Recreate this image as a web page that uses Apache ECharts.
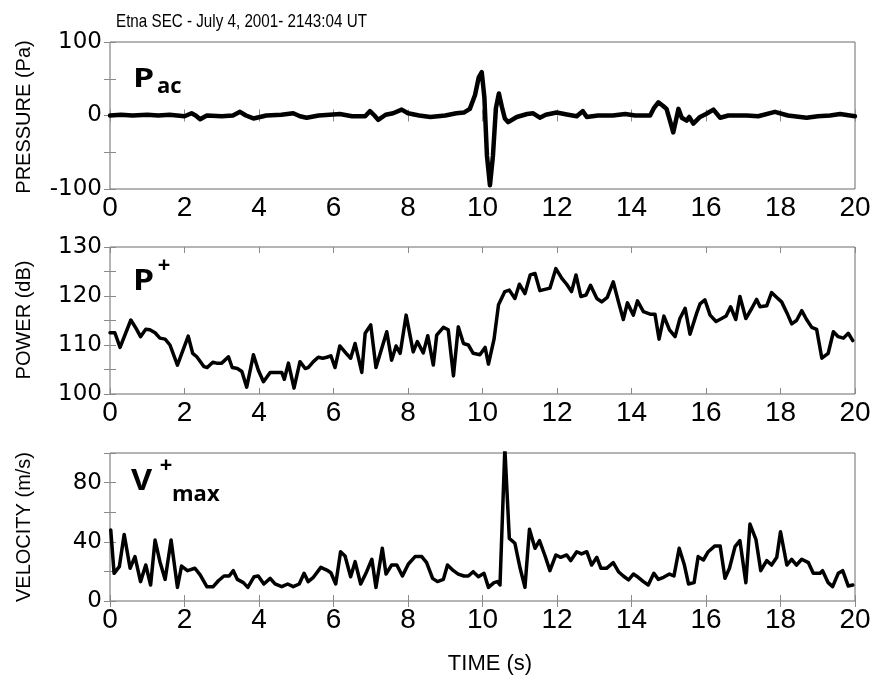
<!DOCTYPE html>
<html>
<head>
<meta charset="utf-8">
<script src="https://cdn.jsdelivr.net/npm/echarts@6/dist/echarts.min.js"></script>
<style>
html,body{margin:0;padding:0;background:#fff;}
#chart{width:876px;height:680px;}
</style>
</head>
<body>
<div id="chart"></div>
<script>
// ---- Data ----
const titleText = 'Etna SEC - July 4, 2001- 2143:04 UT';
const xTicks = [0, 2, 4, 6, 8, 10, 12, 14, 16, 18, 20];

const pressureTime = [0,0.3,0.6,1.0,1.3,1.6,2.0,2.19,2.3,2.42,2.6,3.0,3.3,3.49,3.65,3.85,4.2,4.6,4.92,5.1,5.28,5.6,5.9,6.17,6.5,6.85,6.98,7.1,7.2,7.4,7.6,7.83,8.0,8.3,8.6,9.0,9.3,9.5,9.66,9.8,9.9,9.98,10.05,10.12,10.2,10.28,10.36,10.44,10.52,10.6,10.69,10.92,11.2,11.36,11.54,11.7,11.99,12.3,12.53,12.69,12.8,13.1,13.5,13.83,14.1,14.5,14.6,14.72,14.85,14.94,15.05,15.12,15.2,15.26,15.35,15.48,15.55,15.66,15.84,16.0,16.2,16.38,16.6,17.09,17.4,17.85,18.2,18.7,19.0,19.33,19.6,20];
const pressureValues = [0,1,0,1,0,1,-1,3,0,-5,0,-1,0,5,0,-4,0,1,3,-1,-3,0,1,2,-1,-1,6,0,-6,1,3,8,3,0,-2,0,3,4,9,28,52,59,25,-55,-95,-55,10,30,12,-4,-9,-2,2,3,-3,1,4,1,-1,6,-2,0,0,2,0,0,10,18,13,9,-10,-23,-5,9,-3,-7,-2,-11,-2,2,8,-3,0,0,-1,5,0,-3,-1,0,2,-1];

const powerTime = [0.0,0.13,0.27,0.56,0.70,0.82,0.96,1.07,1.21,1.34,1.48,1.61,1.81,2.10,2.22,2.33,2.52,2.61,2.76,2.86,3.00,3.18,3.28,3.42,3.54,3.67,3.85,3.98,4.12,4.30,4.47,4.61,4.68,4.79,4.94,5.10,5.24,5.32,5.46,5.59,5.71,5.82,5.93,6.04,6.17,6.34,6.46,6.58,6.76,6.85,7.00,7.14,7.43,7.56,7.68,7.79,7.95,8.14,8.25,8.41,8.53,8.68,8.77,8.95,9.08,9.22,9.35,9.49,9.62,9.75,9.93,10.07,10.16,10.31,10.43,10.60,10.72,10.87,10.99,11.14,11.28,11.41,11.54,11.81,11.97,12.13,12.26,12.39,12.51,12.64,12.78,12.90,13.07,13.20,13.35,13.51,13.65,13.78,13.89,14.05,14.16,14.32,14.50,14.63,14.74,14.87,15.02,15.17,15.30,15.44,15.57,15.75,15.84,15.97,16.11,16.27,16.42,16.54,16.66,16.80,16.91,17.07,17.23,17.36,17.45,17.63,17.76,17.90,18.03,18.17,18.30,18.43,18.57,18.70,18.84,18.97,19.11,19.28,19.42,19.55,19.69,19.82,19.94];
const powerValues = [112.5,112.5,109.5,115.1,113.4,111.7,113.2,113.1,112.5,111.4,111.2,110.0,105.9,111.8,108.3,107.6,105.6,105.4,106.5,106.3,106.3,107.6,105.4,105.2,104.6,101.4,108.0,104.9,102.5,104.4,104.4,104.4,103.0,106.3,101.2,106.6,105.2,105.4,106.6,107.5,107.3,107.5,107.8,105.4,109.8,108.3,107.3,110.3,104.4,112.4,114.1,105.4,112.7,106.9,109.8,108.3,116.1,108.6,110.7,108.4,111.9,105.9,112.0,113.6,113.1,103.7,113.7,110.3,110.0,108.3,108.0,109.5,106.1,111.2,118.2,120.9,121.2,119.5,122.4,120.5,124.3,124.6,121.1,121.6,125.6,123.6,122.4,120.9,124.3,119.9,120.2,122.2,119.5,118.8,119.7,122.9,118.8,115.2,118.6,116.1,119.0,116.8,116.3,116.3,111.2,115.9,113.1,111.7,115.4,117.5,112.2,116.5,118.4,119.2,116.1,114.8,115.4,115.9,117.8,115.2,119.9,115.4,117.5,119.3,117.8,118.0,120.7,119.7,118.8,116.6,114.3,115.0,117.0,115.2,113.6,113.2,107.3,108.3,112.7,111.7,111.4,112.4,110.9];

const velocityTime = [0.02,0.11,0.25,0.38,0.54,0.67,0.82,0.96,1.09,1.21,1.34,1.48,1.64,1.81,1.92,2.08,2.28,2.42,2.60,2.77,2.91,3.06,3.20,3.31,3.42,3.58,3.70,3.87,3.98,4.13,4.30,4.43,4.61,4.77,4.92,5.08,5.21,5.32,5.46,5.66,5.82,5.93,6.06,6.19,6.31,6.46,6.58,6.73,6.89,7.03,7.14,7.31,7.41,7.56,7.70,7.85,8.01,8.19,8.37,8.50,8.66,8.79,8.95,9.06,9.22,9.35,9.50,9.62,9.75,9.89,10.04,10.16,10.31,10.40,10.47,10.60,10.72,10.87,11.01,11.14,11.26,11.41,11.53,11.68,11.81,11.97,12.10,12.26,12.37,12.53,12.66,12.80,12.93,13.07,13.18,13.33,13.51,13.65,13.78,13.92,14.05,14.18,14.32,14.45,14.60,14.72,14.86,15.02,15.14,15.28,15.42,15.53,15.68,15.79,15.93,16.06,16.24,16.38,16.51,16.63,16.78,16.91,17.07,17.18,17.34,17.47,17.63,17.76,17.90,18.00,18.17,18.30,18.43,18.57,18.75,18.88,19.06,19.13,19.28,19.40,19.55,19.67,19.82,19.94];
const velocityValues = [48.0,18.7,23.2,45.0,22.1,30.0,13.1,24.3,10.8,41.2,26.6,14.6,41.2,9.2,23.6,20.5,22.1,17.6,9.7,9.7,13.7,16.9,16.9,20.5,14.6,12.4,9.2,16.4,16.9,11.5,15.3,11.5,9.7,11.5,9.7,11.5,18.7,13.1,16.0,22.7,20.9,19.1,11.5,33.3,30.4,16.4,26.6,11.5,19.8,28.2,9.2,35.6,18.2,24.3,24.3,16.9,25.0,30.0,30.0,25.9,15.3,13.1,14.6,24.3,20.5,18.2,16.9,16.9,19.8,16.4,18.7,9.2,12.4,13.1,10.8,103,42.3,39.0,22.1,9.2,48.4,35.6,40.8,30.4,20.5,31.1,29.5,31.1,27.3,33.3,31.8,33.3,24.3,29.5,22.1,22.1,25.9,19.8,16.9,14.2,18.2,16.0,13.1,10.8,18.7,14.6,16.0,18.2,16.9,35.6,24.3,11.5,12.4,30.0,27.7,33.3,37.2,37.2,15.3,22.1,36.7,40.8,12.4,52.0,41.7,20.5,27.3,24.3,29.5,46.8,24.3,28.2,24.3,28.2,25.9,18.7,18.7,20.5,12.4,9.7,18.7,20.5,10.1,10.8];

const panelNames = ['PRESSURE (Pa)', 'POWER (dB)', 'VELOCITY (m/s)'];
const xName = 'TIME (s)';

// ---- Build chart ----
function zip(t, v) { return t.map((x, i) => [x, v[i]]); }

const frameColor = '#6a6a6a';
const tickColor = '#8a8a8a';
const grids = [
  {left: 110, top: 42, width: 745, height: 147},
  {left: 110, top: 247, width: 745, height: 147},
  {left: 110, top: 453, width: 745, height: 148}
].map(g => Object.assign({show: true, borderColor: frameColor, borderWidth: 1, backgroundColor: 'transparent'}, g));

const yCfg = [
  {min: -100, max: 100, interval: 50, labelEvery: 100},
  {min: 100, max: 130, interval: 5, labelEvery: 10},
  {min: 0, max: 100, interval: 20, labelEvery: 40}
];

const xAxes = [], yAxes = [];
for (let i = 0; i < 3; i++) {
  const common = {
    gridIndex: i, type: 'value', min: 0, max: 20, interval: 2,
    axisLine: {show: false}, splitLine: {show: false},
    axisTick: {show: true, inside: true, length: 6, lineStyle: {color: tickColor, width: 1}}
  };
  xAxes.push(Object.assign({}, common, {
    position: 'bottom',
    axisLabel: {show: true, color: '#000', fontFamily: 'Liberation Sans', fontSize: 28, margin: 5,
      formatter: v => xTicks.includes(v) ? String(v) : ''}
  }));
  xAxes.push(Object.assign({}, common, {position: 'top', axisLabel: {show: false}}));

  const yc = yCfg[i];
  const ycommon = {
    gridIndex: i, type: 'value', min: yc.min, max: yc.max, interval: yc.interval,
    axisLine: {show: false}, splitLine: {show: false},
    axisTick: {show: true, inside: true, length: 6, lineStyle: {color: tickColor, width: 1}}
  };
  yAxes.push(Object.assign({}, ycommon, {
    position: 'left',
    axisLabel: {show: true, color: '#000', fontFamily: 'DejaVu Sans', fontSize: 23, margin: 8,
      showMinLabel: true, showMaxLabel: true,
      formatter: v => (Math.round(v) % yc.labelEvery === 0) ? String(v) : ''}
  }));
  yAxes.push(Object.assign({}, ycommon, {position: 'right', axisLabel: {show: false}}));
}

const lineBase = {type: 'line', showSymbol: false, symbol: 'none', smooth: false, clip: true, animation: false};
const series = [
  Object.assign({}, lineBase, {xAxisIndex: 0, yAxisIndex: 0, data: zip(pressureTime, pressureValues), lineStyle: {color: '#000', width: 4.5, join: 'round', cap: 'round'}}),
  Object.assign({}, lineBase, {xAxisIndex: 2, yAxisIndex: 2, data: zip(powerTime, powerValues), lineStyle: {color: '#000', width: 3.5, join: 'round', cap: 'round'}}),
  Object.assign({}, lineBase, {xAxisIndex: 4, yAxisIndex: 4, data: zip(velocityTime, velocityValues), lineStyle: {color: '#000', width: 3.5, join: 'round', cap: 'round'}})
];

const boldFont = 'Open Sans';
function txt(x, y, text, size, sx, opts) {
  return {
    type: 'text', x: x, y: y, z: 100, scaleX: sx || 1,
    style: Object.assign({text: text, fill: '#000', fontFamily: boldFont, fontWeight: 'bold', fontSize: size,
      textAlign: 'left', textVerticalAlign: 'middle'}, opts || {})
  };
}
function plain(x, y, text, size, opts, extra) {
  return Object.assign({
    type: 'text', x: x, y: y,
    style: Object.assign({text: text, fill: '#000', fontFamily: 'Liberation Sans', fontSize: size,
      textAlign: 'center', textVerticalAlign: 'middle'}, opts || {})
  }, extra || {});
}

const graphic = [
  // title
  plain(116, 22, titleText, 19, {textAlign: 'left'}, {scaleX: 0.8}),
  // axis names
  plain(24, 117, panelNames[0], 20, {}, {rotation: Math.PI / 2}),
  plain(24, 320, panelNames[1], 20, {}, {rotation: Math.PI / 2}),
  plain(24, 527, panelNames[2], 20, {}, {rotation: Math.PI / 2}),
  plain(490, 664, xName, 22),
  // panel labels
  txt(133, 80, 'P', 26, 1.3),
  txt(157, 87, 'ac', 22),
  txt(133, 282, 'P', 28, 1.2),
  txt(164, 266, '+', 22, 1, {textAlign: 'center'}),
  txt(131, 482, 'V', 29, 1.12),
  txt(166, 466, '+', 22, 1, {textAlign: 'center'}),
  txt(172, 495, 'max', 22)
];

const chart = echarts.init(document.getElementById('chart'), null, {renderer: 'canvas'});
chart.setOption({
  animation: false,
  backgroundColor: '#fff',
  grid: grids,
  xAxis: xAxes,
  yAxis: yAxes,
  series: series,
  graphic: graphic
});
</script>
</body>
</html>
